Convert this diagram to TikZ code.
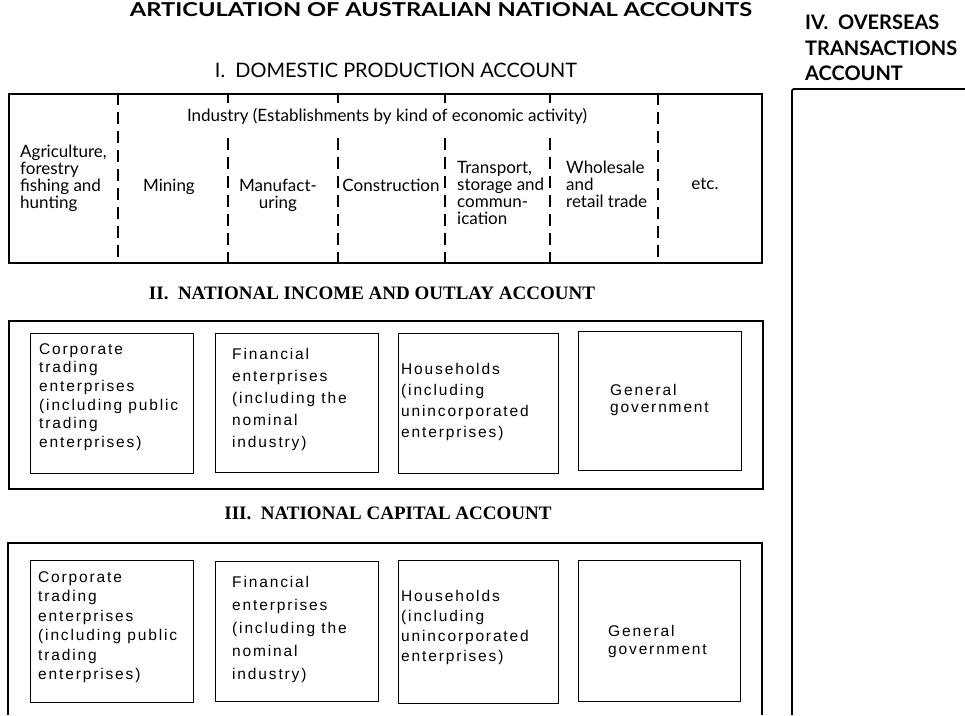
\documentclass[tikz,border=0pt]{standalone}
\usepackage{fontspec}
\newfontfamily\opt{Lato}
\newfontfamily\tms{Liberation Serif}
\newfontfamily\typ{Liberation Sans}[LetterSpace=12]
\begin{document}
\begin{tikzpicture}[x=1pt,y=-1pt,
  frame/.style={line width=1.8pt},
  subbox/.style={draw, line width=1.3pt, inner sep=0pt, anchor=north west},
  dashln/.style={line width=1.4pt, dash pattern=on 12pt off 7pt},
  coltext/.style={font=\opt\fontsize{17}{17}\selectfont, inner sep=0pt},
  boxtext/.style={font=\typ\fontsize{15.5}{#1}\selectfont, align=left, inner sep=0pt, anchor=west},
  hdII/.style={font=\tms\bfseries\fontsize{19}{19}\selectfont, inner sep=0pt, anchor=base},
  hdIV/.style={font=\opt\bfseries\fontsize{20}{20}\selectfont, inner sep=0pt, anchor=base west}]
\useasboundingbox (0,0) rectangle (965,715);

% ---------- titles ----------
\node[font=\opt\bfseries, inner sep=0pt, anchor=base] (title) at (441,16)
  {\resizebox{622pt}{14pt}{ARTICULATION OF AUSTRALIAN NATIONAL ACCOUNTS}};
\node[font=\opt, inner sep=0pt, anchor=base] (hI) at (396,77)
  {\resizebox{362pt}{!}{I.\ \ DOMESTIC PRODUCTION ACCOUNT}};
\node[hdII] (hII) at (372,299) {II.\ \ NATIONAL INCOME AND OUTLAY ACCOUNT};
\node[hdII] (hIII) at (388,519) {III.\ \ NATIONAL CAPITAL ACCOUNT};
\node[hdIV] (hIVa) at (805,29) {IV.\ \ OVERSEAS};
\node[hdIV] (hIVb) at (805,55) {TRANSACTIONS};
\node[hdIV] (hIVc) at (805,80) {ACCOUNT};

% ---------- I. domestic production account ----------
\node[subbox, line width=1.8pt, minimum width=753pt, minimum height=169pt] (dp) at (8,93) {};
\foreach \x in {118,658}{
  \draw[dashln] (\x,93) -- (\x,262);
}
\foreach \x in {228,338,445,550}{
  \draw[dashln] (\x,93) -- (\x,103);
  \draw[dashln] (\x,138) -- (\x,262);
}
\node[coltext] (ind) at (387,116) {Industry (Establishments by kind of economic activity)};
\node[coltext, align=left, anchor=west] (agr) at (20,178.5) {Agriculture,\\forestry\\fishing and\\hunting};
\node[coltext] (min) at (169,187) {Mining};
\node[coltext, align=center] (man) at (278,195.5) {Manufact-\\uring};
\node[coltext] (con) at (391,185) {Construction};
\node[coltext, align=left, anchor=west] (tra) at (457,192.5) {Transport,\\storage and\\commun-\\ication};
\node[coltext, align=left, anchor=west] (who) at (566,184) {Wholesale\\and\\retail trade};
\node[coltext] (etc) at (705,184) {etc.};

% ---------- II. national income and outlay account ----------
\node[subbox, line width=1.8pt, minimum width=754pt, minimum height=168pt] (nio) at (8,320) {};
\node[subbox, minimum width=163pt, minimum height=140pt] (s1) at (30,333) {};
\node[subbox, minimum width=163pt, minimum height=139pt] (s2) at (215,333) {};
\node[subbox, minimum width=160pt, minimum height=140pt] (s3) at (398,333) {};
\node[subbox, minimum width=163pt, minimum height=139pt] (s4) at (578,331) {};
\node[boxtext=18.6] (s1t) at (39,397) {Corporate\\trading\\enterprises\\(including public\\trading\\enterprises)};
\node[boxtext=22] (s2t) at (232,399) {Financial\\enterprises\\(including the\\nominal\\industry)};
\node[boxtext=20.7] (s3t) at (401,402) {Households\\(including\\unincorporated\\enterprises)};
\node[boxtext=17] (s4t) at (610,400) {General\\government};

% ---------- III. national capital account ----------
\coordinate (c1) at (8,715);
\coordinate (c2) at (762,715);
\draw[frame] (c1) |- (762,543) -- (c2);
\node[subbox, minimum width=163pt, minimum height=142pt] (t1) at (30,560) {};
\node[subbox, minimum width=163pt, minimum height=140pt] (t2) at (215,561) {};
\node[subbox, minimum width=160pt, minimum height=143pt] (t3) at (398,560) {};
\node[subbox, minimum width=162pt, minimum height=141pt] (t4) at (578,560) {};
\node[boxtext=19.5] (t1t) at (38,627) {Corporate\\trading\\enterprises\\(including public\\trading\\enterprises)};
\node[boxtext=23] (t2t) at (232,629) {Financial\\enterprises\\(including the\\nominal\\industry)};
\node[boxtext=20] (t3t) at (401,627) {Households\\(including\\unincorporated\\enterprises)};
\node[boxtext=18] (t4t) at (608,641) {General\\government};

% ---------- IV. overseas transactions account ----------
\coordinate (o1) at (792,715);
\coordinate (o2) at (965,89);
\draw[frame, rounded corners=2pt] (o1) |- (o2);
\end{tikzpicture}
\end{document}
